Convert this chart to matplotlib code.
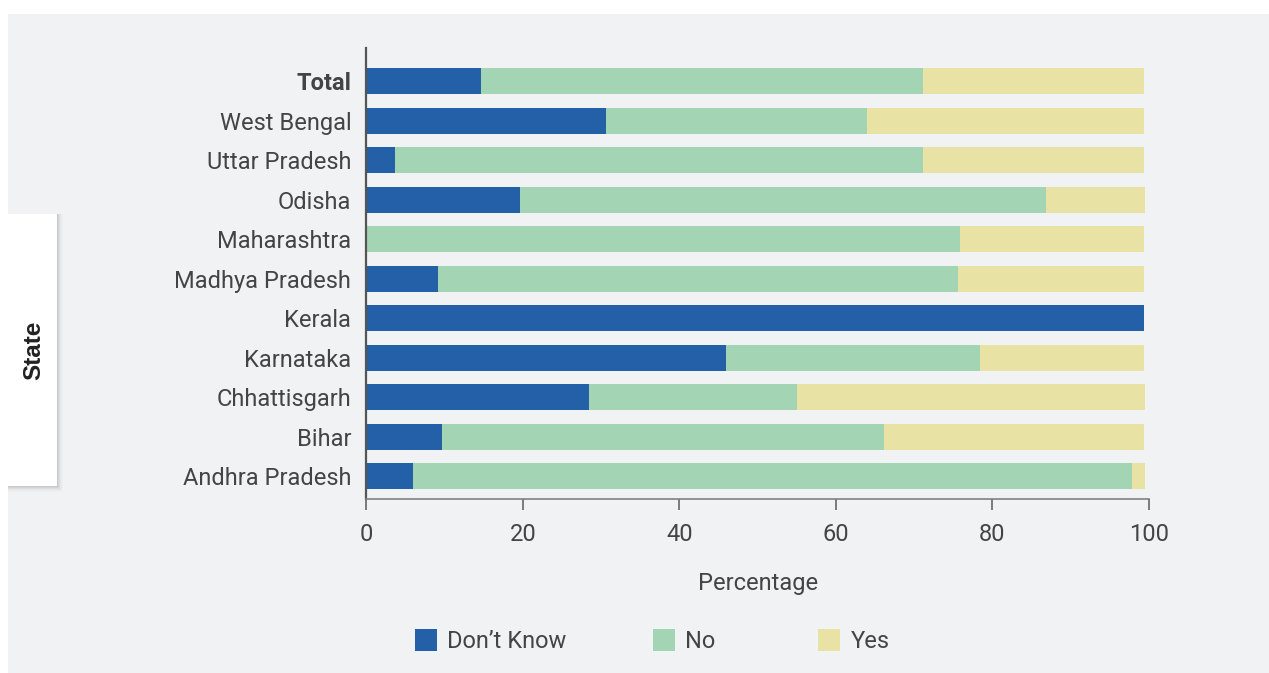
import numpy as np
import matplotlib.pyplot as plt
from matplotlib.patches import Rectangle

# Survey responses by state (percent of respondents)
states = ["Andhra Pradesh", "Bihar", "Chhattisgarh", "Karnataka", "Kerala",
          "Madhya Pradesh", "Maharashtra", "Odisha", "Uttar Pradesh",
          "West Bengal", "Total"]
dont_know = [5.9, 9.6, 28.4, 45.9, 99.4, 9.1, 0.0, 19.6, 3.7, 30.6, 14.6]
no = [91.9, 56.5, 26.6, 32.5, 0.0, 66.5, 75.8, 67.2, 67.4, 33.3, 56.5]
yes = [1.7, 33.3, 44.5, 21.0, 0.0, 23.8, 23.6, 12.7, 28.3, 35.5, 28.3]

c_dk = "#2460a7"
c_no = "#a3d5b5"
c_yes = "#e8e3a4"
bg = "#f1f2f4"
txt = "#444444"

plt.rcParams["font.family"] = ["Roboto", "DejaVu Sans"]

W, H = 1269, 673
fig = plt.figure(figsize=(W / 100, H / 100), dpi=100)
fig.patch.set_facecolor("white")

# grey panel behind the chart
fig.patches.append(Rectangle((8 / W, 0), 1 - 8 / W, 1 - 14 / H,
                             transform=fig.transFigure, facecolor=bg,
                             edgecolor="none", zorder=-5))

# side tab holding the y-axis title, with a soft shadow
bx0, bx1, by0, by1 = 8, 57, 214, 486
for i, a in enumerate([0.05, 0.04, 0.03, 0.02, 0.015, 0.01]):
    d = i + 1
    fig.patches.append(Rectangle((bx0 / W, 1 - (by1 + d) / H),
                                 (bx1 - bx0 + d) / W, (by1 - by0 + d) / H,
                                 transform=fig.transFigure, facecolor="black",
                                 alpha=a, edgecolor="none", zorder=-4))
fig.patches.append(Rectangle((bx0 / W, 1 - by1 / H), (bx1 - bx0) / W,
                             (by1 - by0) / H, transform=fig.transFigure,
                             facecolor="white", edgecolor="none", zorder=-3))
fig.text(34 / W, 1 - 350 / H, "State", rotation=90, ha="center", va="center",
         fontsize=17.5, fontweight="bold", color="#222222",
         family=["Liberation Sans", "DejaVu Sans"])

ax = fig.add_axes([366.5 / W, 1 - 499 / H, (1149 - 366.5) / W, (499 - 48) / H])
ax.set_facecolor("none")

y = np.arange(len(states))
h = 0.66
dk = np.array(dont_know)
nn = np.array(no)
ys = np.array(yes)
b1 = ax.barh(y, dk, height=h, color=c_dk, label="Don\u2019t Know")
b2 = ax.barh(y, nn, left=dk, height=h, color=c_no, label="No")
b3 = ax.barh(y, ys, left=dk + nn, height=h, color=c_yes, label="Yes")

ax.set_xlim(0, 100)
ax.set_ylim(-0.58, 10.84)
ax.set_xticks(range(0, 101, 20))
ax.set_yticks(y)
ax.set_yticklabels(states)
ax.get_yticklabels()[-1].set_fontweight("bold")
ax.get_yticklabels()[-1].set_color("#222222")

for s in ["top", "right"]:
    ax.spines[s].set_visible(False)
ax.spines["left"].set_color("#555555")
ax.spines["left"].set_linewidth(1.6)
ax.spines["bottom"].set_color("#808080")
ax.spines["bottom"].set_linewidth(1.2)

ax.tick_params(axis="y", length=0, pad=11, labelsize=17, labelcolor=txt)
ax.tick_params(axis="x", length=8, width=1.2, color="#666666", pad=9,
               labelsize=17, labelcolor=txt)

ax.set_xlabel("Percentage", fontsize=17, color=txt, labelpad=19)

# one legend entry per series, placed along the bottom
for bars, x0 in zip([b1, b2, b3], [415, 653, 818]):
    fig.legend(handles=[bars], loc="center left",
               bbox_to_anchor=(x0 / W, 1 - 641 / H), frameon=False,
               fontsize=17, labelcolor=txt, borderaxespad=0, borderpad=0,
               handlelength=0.92, handleheight=1.1, handletextpad=0.45)

fig.savefig("out.png", dpi=100, facecolor=fig.get_facecolor())
